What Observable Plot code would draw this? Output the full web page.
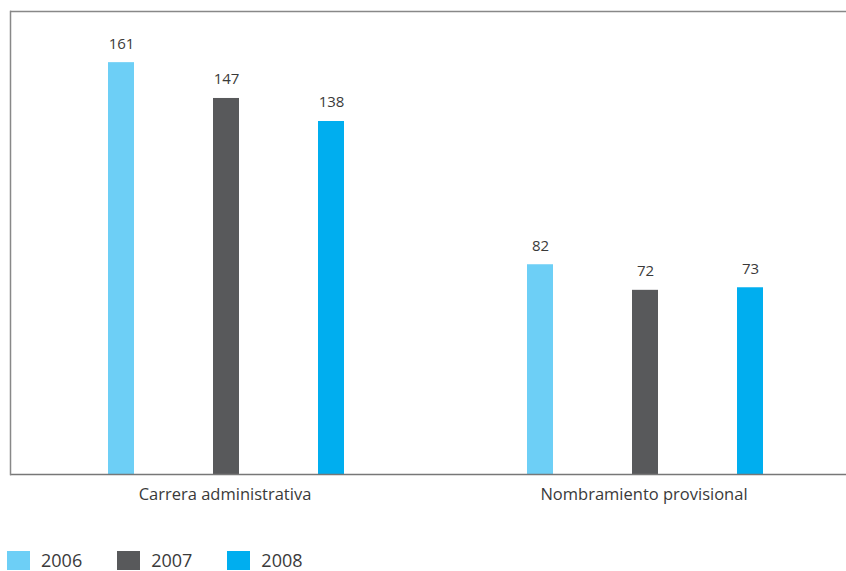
<!DOCTYPE html>
<html>
<head>
<meta charset="utf-8">
<script src="https://cdn.jsdelivr.net/npm/d3@7"></script>
<script src="https://cdn.jsdelivr.net/npm/@observablehq/plot@0.6"></script>
<style>
  html, body { margin: 0; padding: 0; background: #fff; }
  body { width: 846px; height: 571px; overflow: hidden; font-family: "Open Sans", sans-serif; }
  #legend { display: flex; align-items: center; margin-top: 29px; margin-left: 7px; color: #3a3a3a; font-size: 18px; line-height: 22px; }
  .item { display: flex; align-items: center; margin-right: 35px; }
  .sw { width: 23px; height: 19px; margin-right: 11px; }
</style>
</head>
<body>
<div id="chart"></div>
<div id="legend"></div>
<script>
const groups = ["Carrera administrativa", "Nombramiento provisional"];
const years = ["2006", "2007", "2008"];
const values2006 = [161, 82];
const values2007 = [147, 72];
const values2008 = [138, 73];
const colors = ["#6dcff6", "#58595b", "#00aeef"];

const series = [values2006, values2007, values2008];
const data = [];
groups.forEach((g, gi) => years.forEach((y, yi) => data.push({group: g, year: y, value: series[yi][gi]})));

const chart = Plot.plot({
  width: 846,
  height: 520,
  marginLeft: 10,
  marginRight: -2,
  marginTop: 11,
  marginBottom: 46,
  style: {fontFamily: "Open Sans, sans-serif", color: "#3a3a3a", background: "#fff", overflow: "hidden"},
  fx: {domain: groups, padding: 0, label: null, axis: null},
  x: {domain: years, paddingInner: 0.7536, paddingOuter: 0.8626, align: 0.536, axis: null},
  y: {domain: [0, 181], axis: null},
  color: {domain: years, range: colors},
  marks: [
    Plot.barY(data, {fx: "group", x: "year", y: "value", fill: "year"}),
    Plot.text(data, {fx: "group", x: "year", y: "value", text: d => String(d.value), lineAnchor: "bottom", dy: -14, fontSize: 15, fill: "#3a3a3a"}),
    Plot.ruleY([181], {stroke: "#888", strokeWidth: 1.5}),
    Plot.ruleY([0], {stroke: "#777", strokeWidth: 1.5}),
    Plot.frame({anchor: "left", fx: () => groups[0], stroke: "#888", strokeWidth: 1.5}),
    Plot.axisFx({anchor: "bottom", tickSize: 0, tickPadding: 14, fontSize: 16.5, dx: 5, label: null, fill: "#3a3a3a"})
  ]
});
document.getElementById("chart").appendChild(chart);

const legend = document.getElementById("legend");
years.forEach((y, i) => {
  const item = document.createElement("div");
  item.className = "item";
  const sw = document.createElement("div");
  sw.className = "sw";
  sw.style.background = colors[i];
  const lab = document.createElement("span");
  lab.textContent = y;
  item.appendChild(sw);
  item.appendChild(lab);
  legend.appendChild(item);
});
</script>
</body>
</html>
